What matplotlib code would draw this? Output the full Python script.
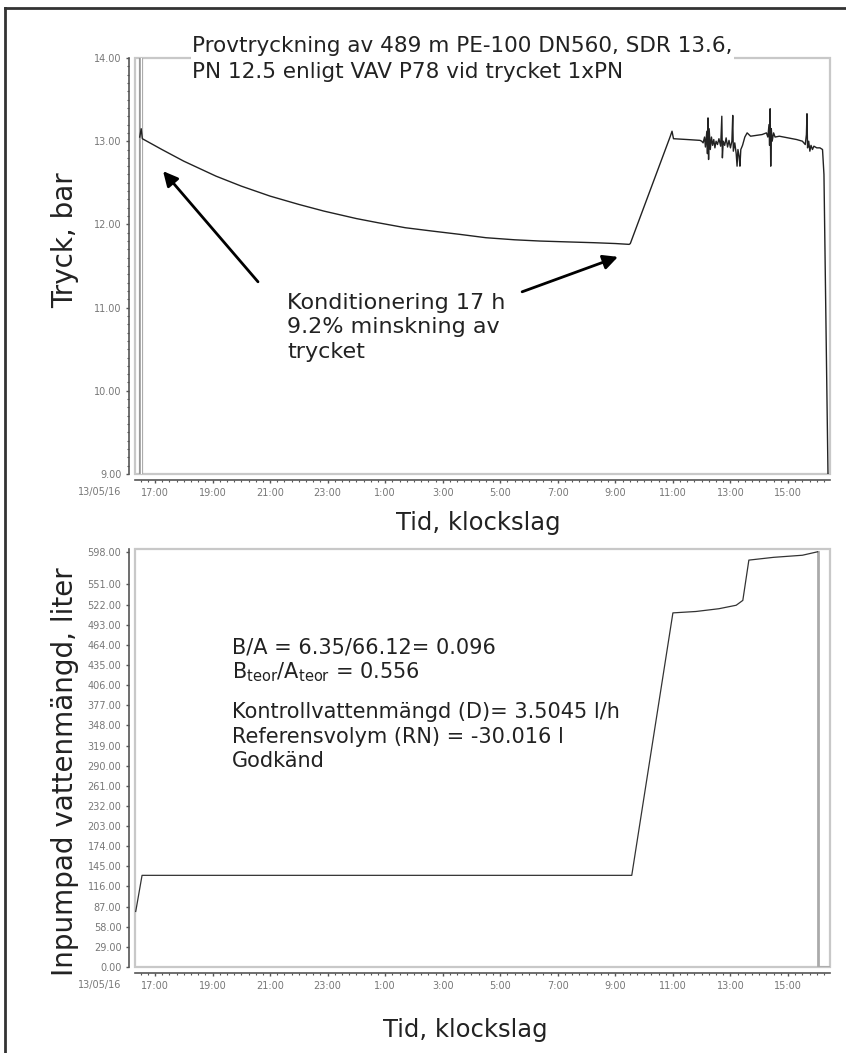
import matplotlib
matplotlib.use("Agg")
import matplotlib.pyplot as plt
from matplotlib.patches import Rectangle
from matplotlib.lines import Line2D
from matplotlib.ticker import FixedLocator, MultipleLocator

# -------------------------------
# Data (hours counted from 13/05/16 00:00)
# -------------------------------

tick_hours = [17, 19, 21, 23, 25, 27, 29, 31, 33, 35, 37, 39]
tick_labels = ["17:00", "19:00", "21:00", "23:00", "1:00", "3:00",
               "5:00", "7:00", "9:00", "11:00", "13:00", "15:00"]
date_label = "13/05/16"

# pressure, bar
tryck_t = [16.47, 16.52, 16.56, 17.24, 18.0, 19.12, 20.0, 21.0, 22.0, 22.87,
           24.0, 24.75, 25.7, 26.63, 27.6, 28.5, 29.5, 30.38, 31.3, 32.26,
           33.0, 33.48, 33.52, 34.9, 34.97, 35.02, 35.5, 35.94,
           36.0, 36.05, 36.1, 36.13, 36.18, 36.2, 36.22, 36.24, 36.26, 36.3,
           36.34, 36.38, 36.42, 36.46, 36.5, 36.55, 36.6, 36.66, 36.7, 36.72,
           36.75, 36.8, 36.85, 36.9, 36.95, 37.0, 37.05, 37.08, 37.1, 37.15,
           37.2, 37.23, 37.26, 37.3, 37.33, 37.36, 37.42, 37.5, 37.58, 37.7,
           37.9, 38.1, 38.25, 38.3, 38.34, 38.36, 38.38, 38.4, 38.42, 38.45,
           38.5, 38.55, 38.7, 39.0, 39.3, 39.5, 39.6, 39.64, 39.66, 39.68,
           39.72, 39.76, 39.8, 39.85, 39.9, 40.0, 40.11, 40.2, 40.25, 40.39]
tryck_p = [13.05, 13.15, 13.03, 12.9, 12.76, 12.58, 12.46, 12.34, 12.24, 12.16,
           12.07, 12.02, 11.96, 11.92, 11.88, 11.84, 11.815, 11.80, 11.79, 11.78,
           11.77, 11.76, 11.77, 13.05, 13.12, 13.03, 13.02, 13.01,
           13.0, 12.98, 13.05, 12.93, 13.12, 12.85, 13.28, 12.78, 13.15, 12.9,
           13.05, 12.95, 13.02, 12.92, 13.0, 12.96, 13.03, 12.94, 13.3, 12.8,
           13.0, 12.95, 13.04, 12.93, 13.01, 12.92, 13.0, 13.31, 12.88, 12.98,
           12.85, 12.7, 12.9, 12.82, 12.7, 12.9, 12.95, 13.05, 13.1, 13.06,
           13.07, 13.08, 13.1, 13.05, 13.2, 12.95, 13.39, 12.7, 13.15, 13.0,
           13.1, 13.05, 13.06, 13.04, 13.02, 13.0, 12.96, 13.08, 13.33, 12.92,
           13.0, 12.88, 12.95, 12.9, 12.94, 12.92, 12.92, 12.9, 12.6, 9.0]
tryck_start = 16.5

# pumped volume, liter
vol_t = [16.33, 16.36, 16.55, 33.57, 35.0, 35.8, 36.6, 37.2, 37.43, 37.64,
         38.5, 39.5, 40.03]
vol_v = [80, 87, 132, 132, 510, 512, 516, 521, 528, 586, 590, 593, 598]
vol_drop_t = [40.06, 40.06, 40.45]
vol_drop_v = [598, 0, 0]
vol_ticks = [0, 29, 58, 87, 116, 145, 174, 203, 232, 261, 290, 319, 348,
             377, 406, 435, 464, 493, 522, 551, 598]

# -------------------------------
# Figure
# -------------------------------

W, H = 846, 1053
fig = plt.figure(figsize=(W / 100, H / 100), dpi=100)
plt.rcParams['font.family'] = ['DejaVu Sans']

# outer border
fig.add_artist(Line2D([5 / W, 5 / W], [0, 1 - 8 / H], color="#333", lw=2))
fig.add_artist(Line2D([5 / W, 1], [1 - 8 / H, 1 - 8 / H], color="#333", lw=2))

xlim = (16.305, 40.46)


def style_axes(ax):
    ax.set_xlim(*xlim)
    for s in ["top", "right"]:
        ax.spines[s].set_visible(False)
    for s in ["left", "bottom"]:
        ax.spines[s].set_position(("outward", 4.3))
        ax.spines[s].set_color("#555")
        ax.spines[s].set_linewidth(1.2)
    ax.add_patch(Rectangle((0, 0), 1, 1, transform=ax.transAxes, fill=False,
                           ec="#c8c8c8", lw=1.6, zorder=0, clip_on=False))
    ax.xaxis.set_major_locator(FixedLocator(tick_hours))
    ax.set_xticklabels(tick_labels)
    ax.xaxis.set_minor_locator(MultipleLocator(0.25))
    ax.tick_params(axis="both", which="major", labelsize=7, labelcolor="#777",
                   color="#555", length=2.5, width=1, pad=3)
    ax.tick_params(axis="both", which="minor", color="#555", length=1.5,
                   width=0.8)


# ===============================
# Top: pressure
# ===============================

ax1 = fig.add_axes([135 / W, 1 - 474 / H, 695 / W, 416 / H])
style_axes(ax1)
ax1.set_ylim(9, 14)
ax1.yaxis.set_major_locator(FixedLocator([9, 10, 11, 12, 13, 14]))
ax1.set_yticklabels(["%.2f" % v for v in [9, 10, 11, 12, 13, 14]])
ax1.yaxis.set_minor_locator(MultipleLocator(0.1))

ax1.axvline(tryck_start, color="#999", lw=3)
ax1.axvline(tryck_start, color="white", lw=1)
ax1.plot(tryck_t, tryck_p, color="#222", lw=1.0)

ax1.text(18.29, 14.27,
         "Provtryckning av 489 m PE-100 DN560, SDR 13.6,\n"
         "PN 12.5 enligt VAV P78 vid trycket 1xPN",
         fontsize=15.5, color="#222", va="top", ha="left", linespacing=1.38,
         bbox=dict(fc="white", ec="none", pad=1), clip_on=False, zorder=5)

ax1.text(21.59, 11.18, "Konditionering 17 h\n9.2% minskning av\ntrycket",
         fontsize=16, color="#222", va="top", ha="left", linespacing=1.3)
arrow = dict(arrowstyle="-|>", lw=2, color="black", mutation_scale=22,
             shrinkA=0, shrinkB=0)
ax1.annotate("", xy=(17.28, 12.64), xytext=(20.58, 11.31), arrowprops=arrow)
ax1.annotate("", xy=(33.09, 11.61), xytext=(29.76, 11.19), arrowprops=arrow)

fig.text(65 / W, 1 - 240 / H, "Tryck, bar", rotation=90, fontsize=20,
         ha="center", va="center", color="#222")
fig.text(478 / W, 1 - 523 / H, "Tid, klockslag", fontsize=17.5,
         ha="center", va="center", color="#222")
fig.text(100 / W, 1 - 492 / H, date_label, fontsize=7, color="#777",
         ha="center", va="center")

# ===============================
# Bottom: pumped volume
# ===============================

ax2 = fig.add_axes([135 / W, 1 - 967 / H, 695 / W, 418 / H])
style_axes(ax2)
ax2.set_ylim(0, 602)
ax2.yaxis.set_major_locator(FixedLocator(vol_ticks))
ax2.set_yticklabels(["%.2f" % v for v in vol_ticks])

ax2.plot(vol_drop_t, vol_drop_v, color="#aaa", lw=2)
ax2.plot(vol_t, vol_v, color="#333", lw=0.9)

fs = 15
ax2.text(19.68, 460, "B/A = 6.35/66.12= 0.096", fontsize=fs, color="#222",
         va="center")
ax2.text(19.68, 424, r"B$_{\mathregular{teor}}$/A$_{\mathregular{teor}}$ = 0.556",
         fontsize=fs, color="#222", va="center")
ax2.text(19.68, 367, "Kontrollvattenmängd (D)= 3.5045 l/h", fontsize=fs,
         color="#222", va="center")
ax2.text(19.68, 331, "Referensvolym (RN) = -30.016 l", fontsize=fs,
         color="#222", va="center")
ax2.text(19.68, 297, "Godkänd", fontsize=fs, color="#222", va="center")

fig.text(65 / W, 1 - 772 / H, "Inpumpad vattenmängd, liter", rotation=90,
         fontsize=20, ha="center", va="center", color="#222")
fig.text(465 / W, 1 - 1030 / H, "Tid, klockslag", fontsize=17.5,
         ha="center", va="center", color="#222")
fig.text(100 / W, 1 - 985 / H, date_label, fontsize=7, color="#777",
         ha="center", va="center")

fig.savefig("out.png", dpi=100)
